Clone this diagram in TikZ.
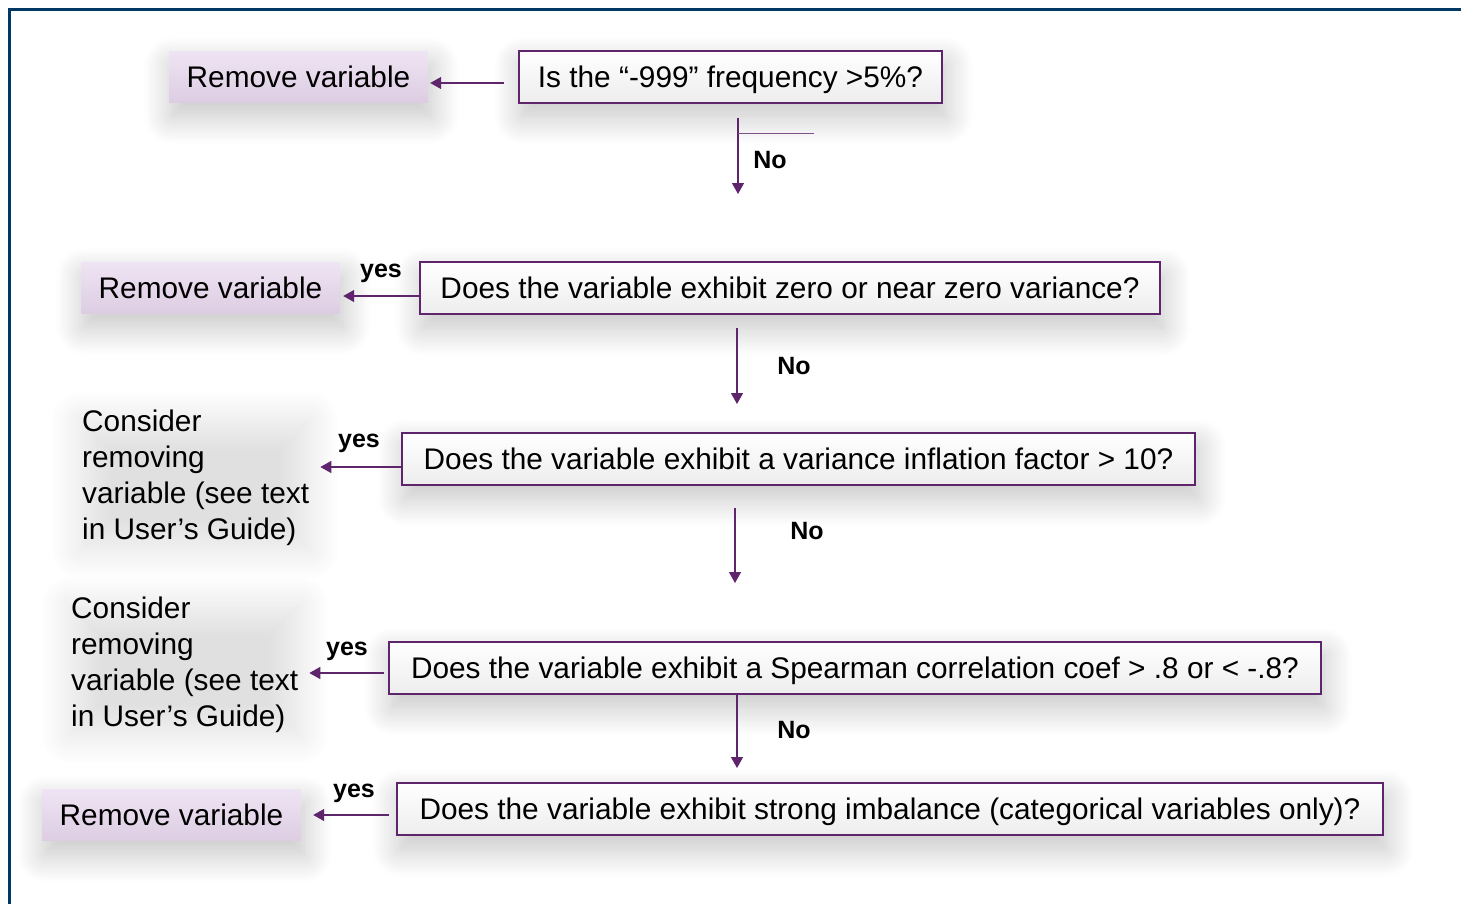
\documentclass[tikz,border=0pt]{standalone}
\usepackage{fontspec}
\setmainfont{Liberation Sans}
\usetikzlibrary{arrows.meta,shadows.blur}
\definecolor{plum}{RGB}{94,36,108}
\definecolor{lilac}{RGB}{239,228,243}
\definecolor{lilacdark}{RGB}{221,205,227}
\definecolor{navy}{RGB}{0,56,101}
\begin{document}
\begin{tikzpicture}[x=1pt, y=-1pt,
    softshadow/.style={blur shadow={shadow xshift=3pt, shadow yshift=-14pt, shadow blur radius=28pt, shadow blur steps=24, shadow opacity=24}},
    haze/.style={blur shadow={shadow xshift=0pt, shadow yshift=0pt, shadow blur radius=30pt, shadow blur steps=24, shadow opacity=12}},
    question/.style={draw=plum, line width=2pt, top color=white, bottom color=black!7, minimum height=52pt, inner sep=0pt, text height=21pt, text depth=0pt, font=\fontsize{29.8}{36}\selectfont, softshadow},
    removebox/.style={top color=lilac, bottom color=lilacdark, minimum width=259pt, minimum height=51pt, inner sep=0pt, text height=21pt, text depth=0pt, font=\fontsize{29.8}{36}\selectfont, softshadow},
    advice/.style={anchor=west, align=left, inner sep=0pt, font=\fontsize{29.8}{36}\selectfont},
    answer/.style={inner sep=0pt, font=\bfseries\fontsize{25}{30}\selectfont},
    link/.style={draw=plum, line width=1.3pt, -{Triangle[length=11pt, width=12pt]}}
  ]

  \useasboundingbox (0,0) rectangle (1461,903);
  \draw[navy, line width=2.4pt] (9.5,920) -- (9.5,9.5) -- (1480,9.5);

  \path[haze] (80,420) rectangle (310,550);
  \path[haze] (70,605) rectangle (300,735);

  \node[question, minimum width=423pt] (q1) at (730.5,76.5) {Is the “-999” frequency >5\%?\hspace{4pt}};
  \node[question, minimum width=740pt] (q2) at (790,288) {Does the variable exhibit zero or near zero variance?\hspace{8pt}};
  \node[question, minimum width=793pt] (q3) at (798.5,458.5) {Does the variable exhibit a variance inflation factor > 10?\hspace{8pt}};
  \node[question, minimum width=932pt] (q4) at (855,667.5) {Does the variable exhibit a Spearman correlation coef > .8 or < -.8?\hspace{8pt}};
  \node[question, minimum width=986pt] (q5) at (890,809) {Does the variable exhibit strong imbalance (categorical variables only)?\hspace{8pt}};

  \node[removebox] (rv1) at (298.5,76.5) {Remove variable};
  \node[removebox] (rv2) at (210.5,287.5) {Remove variable};
  \node[removebox] (rv3) at (171.5,815) {Remove variable};

  \node[advice] (cons1) at (82,478) {Consider\\removing\\variable (see text\\in User’s Guide)};
  \node[advice] (cons2) at (71,665) {Consider\\removing\\variable (see text\\in User’s Guide)};

  \coordinate (n1) at (738,194);
  \coordinate (n2) at (737,404);
  \coordinate (n3) at (735,583);
  \coordinate (n4) at (737,768);

  \draw[link] ([shift={(-14,6.5)}]q1.west) -- ([shift={(2,6.5)}]rv1.east);
  \draw[link] ([shift={(0,8)}]q2.west) -- ([shift={(3,8.5)}]rv2.east);
  \draw[link] ([shift={(0,8.5)}]q3.west) -- ([shift={(11,-11)}]cons1.east);
  \draw[link] ([shift={(-4,5.5)}]q4.west) -- ([shift={(11,8)}]cons2.east);
  \draw[link] ([shift={(-7,6)}]q5.west) -- ([shift={(12,0)}]rv3.east);

  \draw[link] ([shift={(7.5,14)}]q1.south) -- (n1);
  \draw[plum!80, line width=1pt] ([shift={(7.5,30)}]q1.south) -- ++(76,0);
  \draw[link] ([shift={(-53,13)}]q2.south) -- (n2);
  \draw[link] ([shift={(-63.5,22)}]q3.south) -- (n3);
  \draw[link] ([shift={(-118,0)}]q4.south) -- (n4);

  \node[answer] (no1) at (770,160) {No};
  \node[answer] (no2) at (794,366) {No};
  \node[answer] (no3) at (807,531) {No};
  \node[answer] (no4) at (794,730) {No};

  \node[answer] (yes2) at (381,273) {yes};
  \node[answer] (yes3) at (359,443) {yes};
  \node[answer] (yes4) at (347,651) {yes};
  \node[answer] (yes5) at (354,793) {yes};

\end{tikzpicture}
\end{document}
